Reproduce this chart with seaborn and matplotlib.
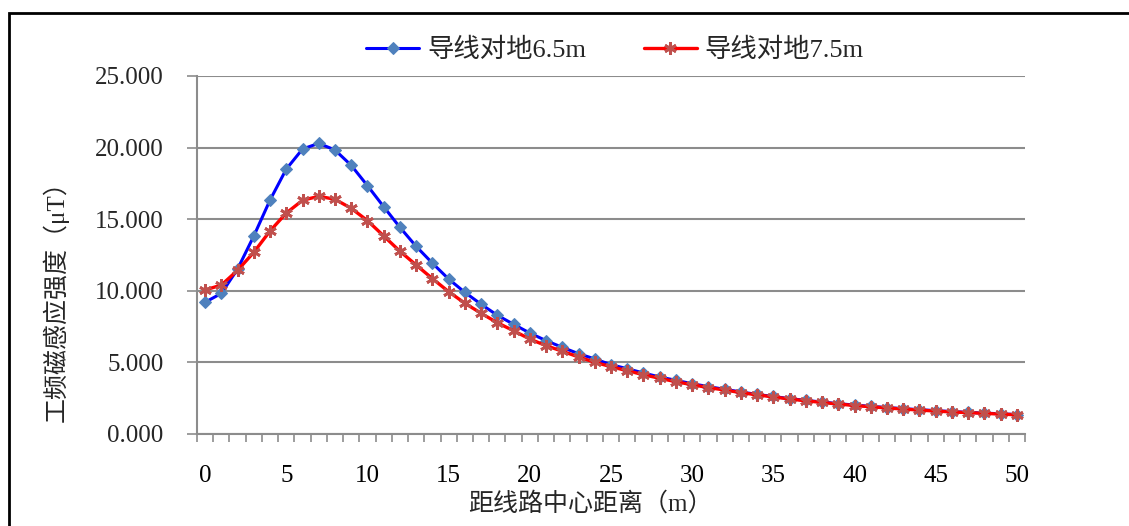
import numpy as np
import pandas as pd
import matplotlib
matplotlib.use("Agg")
import matplotlib.pyplot as plt
import matplotlib.patches as mpatches
from matplotlib.ticker import FixedLocator, FormatStrFormatter
import seaborn as sns

# Distance from line centre (m)
distance = list(range(0, 51))

# Power-frequency magnetic induction (μT), conductor height 6.5 m
b_65 = [9.20, 9.82, 11.52, 13.83, 16.34, 18.50, 19.90, 20.30, 19.83, 18.76,
        17.34, 15.87, 14.43, 13.10, 11.93, 10.82, 9.89, 9.06, 8.29, 7.66,
        7.05, 6.52, 6.05, 5.61, 5.24, 4.84, 4.56, 4.26, 3.98, 3.75,
        3.51, 3.31, 3.12, 2.94, 2.76, 2.62, 2.47, 2.35, 2.23, 2.12,
        2.02, 1.93, 1.85, 1.77, 1.70, 1.63, 1.57, 1.51, 1.46, 1.41, 1.36]

# Power-frequency magnetic induction (μT), conductor height 7.5 m
b_75 = [10.06, 10.40, 11.43, 12.69, 14.18, 15.43, 16.32, 16.60, 16.39, 15.76,
        14.90, 13.83, 12.76, 11.80, 10.85, 9.94, 9.13, 8.43, 7.77, 7.21,
        6.63, 6.17, 5.78, 5.38, 5.01, 4.70, 4.42, 4.14, 3.89, 3.65,
        3.44, 3.24, 3.07, 2.89, 2.73, 2.59, 2.44, 2.32, 2.20, 2.09,
        1.99, 1.90, 1.82, 1.74, 1.67, 1.60, 1.54, 1.49, 1.44, 1.39, 1.34]

series_names = ["导线对地6.5m", "导线对地7.5m"]
x_tick_labels = [str(v) for v in range(0, 51, 5)]
y_ticks = [0, 5, 10, 15, 20, 25]

sns.set_theme(style="white")
plt.rcParams["font.family"] = ["Liberation Serif", "Noto Sans CJK SC", "DejaVu Sans"]

FS = 18

df = pd.DataFrame({
    "distance": distance * 2,
    "value": b_65 + b_75,
    "series": [series_names[0]] * len(b_65) + [series_names[1]] * len(b_75),
})

fig = plt.figure(figsize=(11.29, 5.26), dpi=100)
ax = fig.add_axes([197 / 1129, 1 - 434 / 526, (1025 - 197) / 1129, (434 - 76) / 526])

grey = "#8c8c8c"

sns.lineplot(data=df[df["series"] == series_names[0]], x="distance", y="value",
             ax=ax, color="#0000ff", lw=2.2, marker="D", markersize=6.5,
             markerfacecolor="#4f81bd", markeredgecolor="#4f81bd",
             label=series_names[0], zorder=3)
sns.lineplot(data=df[df["series"] == series_names[1]], x="distance", y="value",
             ax=ax, color="#ff0000", lw=2.4, marker=(6, 2, 0), markersize=9,
             markeredgewidth=2, markerfacecolor="#c0504d", markeredgecolor="#c0504d",
             label=series_names[1], zorder=4)

ax.set_xlim(-0.5, 50.5)
ax.set_ylim(0, 25)

# category-style x axis: boundary ticks, labels every 5
ax.xaxis.set_major_locator(FixedLocator(list(range(0, 51, 5))))
ax.set_xticklabels(x_tick_labels)
ax.xaxis.set_minor_locator(FixedLocator(np.arange(-0.5, 51, 1.0)))
ax.tick_params(axis="x", which="major", length=0, pad=22, labelsize=FS, colors="black")
ax.tick_params(axis="x", which="minor", bottom=True, length=6, width=1.2, color=grey,
               direction="out")

ax.set_yticks(y_ticks)
ax.yaxis.set_major_formatter(FormatStrFormatter("%.3f"))
ax.tick_params(axis="y", which="major", left=True, length=7, width=1.2, color=grey,
               direction="out", labelsize=FS, pad=17)

ax.grid(axis="y", color=grey, lw=1.5)
ax.grid(axis="x", visible=False)
ax.set_axisbelow(True)

for side in ["top", "right"]:
    ax.spines[side].set_visible(False)
for side in ["left", "bottom"]:
    ax.spines[side].set_color(grey)
    ax.spines[side].set_linewidth(1.5)

ax.set_xlabel("距线路中心距离（m）", fontsize=FS)
ax.set_ylabel("工频磁感应强度（μT）", fontsize=FS)
ax.xaxis.set_label_coords((590 - 197) / 828, (434 - 504) / 358)
ax.xaxis.label.set_va("center")
ax.yaxis.set_label_coords((56 - 197) / 828, (434 - 295) / 358)
ax.yaxis.label.set_va("center")

ax.legend_.remove()
handles, labels = ax.get_legend_handles_labels()
fig.legend(handles, labels, loc="center", bbox_to_anchor=(615 / 1129, 1 - 50 / 526),
           ncol=2, frameon=False, fontsize=19, handlelength=2.0,
           columnspacing=2.2, handletextpad=0.3)

# outer chart frame
fig.patches.append(mpatches.Rectangle((9 / 1129, -0.2), 1.2, 1 - 13 / 526 + 0.2,
                                      transform=fig.transFigure, fill=False,
                                      lw=2, ec="black"))

fig.savefig("out.png", dpi=100)
